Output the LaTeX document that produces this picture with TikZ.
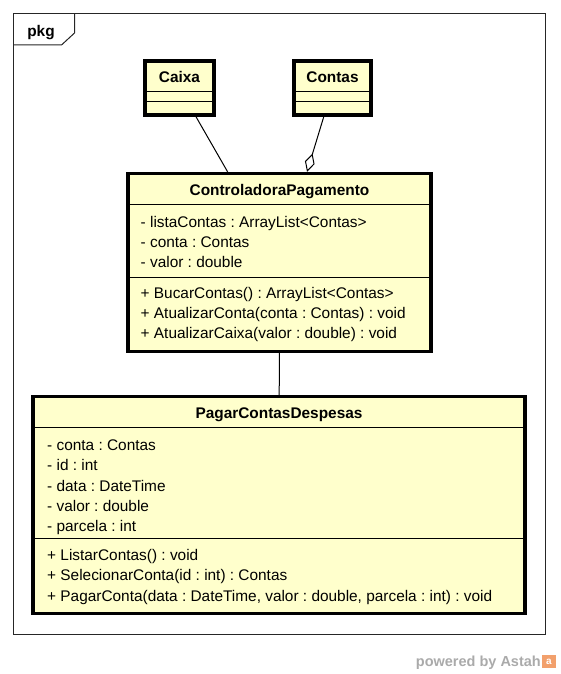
\documentclass[tikz,border=0pt]{standalone}
\usepackage{fontspec}
\setmainfont{Liberation Sans}
\usepackage{tikz}
\usetikzlibrary{arrows.meta, positioning}
\frenchspacing

\definecolor{classfill}{RGB}{255,255,204}
\definecolor{wmgray}{RGB}{170,170,170}
\definecolor{astahorange}{RGB}{242,160,108}

\tikzset{
    classbox/.style={draw=black, line width=3.4pt, fill=classfill, inner sep=0pt},
    clsname/.style={anchor=base, inner sep=0pt, font=\fontsize{15.4}{20}\selectfont\bfseries},
    member/.style={anchor=base west, inner sep=0pt, font=\fontsize{15.4}{20}\selectfont},
    sep/.style={line width=1pt},
    assoc/.style={line width=1pt},
    aggr/.style={line width=1pt, -{Diamond[open, length=19pt, width=10pt]}},
    frame/.style={line width=1pt, draw=black!85}
}

\begin{document}
\begin{tikzpicture}[x=1pt, y=-1pt]
    \useasboundingbox (0,0) rectangle (560,674);
    % Package frame
    \draw[frame] (13.5,13.5) rectangle (545.5,634);
    \draw[frame] (13.5,45) -- (61.5,45) -- (74.5,33) -- (74.5,13.5);
    \node[clsname] (pkg) at (41,36.5) {pkg};

    % Classes
    \node[classbox, minimum width=69pt, minimum height=54pt] (caixa)  at (179.5,88) {};
    \node[classbox, minimum width=77pt, minimum height=54pt] (contas) at (332.5,88) {};
    \node[classbox, minimum width=303pt, minimum height=178pt] (ctrl) at (279.5,262.5) {};
    \node[classbox, minimum width=492pt, minimum height=216.6pt] (pagar) at (279,505) {};

    % Compartments
    \draw[sep] (146.5,91.5) -- (212.5,91.5);
    \draw[sep] (146.5,102) -- (212.5,102);
    \draw[sep] (295.5,91.5) -- (369.5,91.5);
    \draw[sep] (295.5,102) -- (369.5,102);
    \draw[sep] (129.5,204) -- (429.5,204);
    \draw[sep] (129.5,277) -- (429.5,277);
    \draw[sep] (34.5,427) -- (523.5,427);
    \draw[sep] (34.5,538) -- (523.5,538);

    \node[clsname] (caixa-name)  at (179.5,83) {Caixa};
    \node[clsname] (contas-name) at (332.5,83) {Contas};
    \node[clsname] (ctrl-name)   at (279.5,195) {ControladoraPagamento};
    \node[clsname] (pagar-name)  at (279,418) {PagarContasDespesas};

    \node[member] (ctrl-a1) at (140.5,227) {- listaContas : ArrayList<Contas>};
    \node[member] (ctrl-a2) at (140.5,247) {- conta : Contas};
    \node[member] (ctrl-a3) at (140.5,267) {- valor : double};
    \node[member] (ctrl-m1) at (140.5,298) {+ BucarContas() : ArrayList<Contas>};
    \node[member] (ctrl-m2) at (140.5,318) {+ AtualizarConta(conta : Contas) : void};
    \node[member] (ctrl-m3) at (140.5,338) {+ AtualizarCaixa(valor : double) : void};

    \node[member] (pagar-a1) at (47,450.5) {- conta : Contas};
    \node[member] (pagar-a2) at (47,470.8) {- id : int};
    \node[member] (pagar-a3) at (47,491) {- data : DateTime};
    \node[member] (pagar-a4) at (47,511.3) {- valor : double};
    \node[member] (pagar-a5) at (47,531.5) {- parcela : int};
    \node[member] (pagar-m1) at (47,560.5) {+ ListarContas() : void};
    \node[member] (pagar-m2) at (47,580.8) {+ SelecionarConta(id : int) : Contas};
    \node[member] (pagar-m3) at (47,601) {+ PagarConta(data : DateTime, valor : double, parcela : int) : void};

    % Relations
    \path
        (caixa)
            edge [assoc] (ctrl)
        (contas)
            edge [aggr] (ctrl)
        (ctrl)
            edge [assoc] (pagar)
        ;

    % Watermark
    \node[anchor=base east, inner sep=0pt, text=wmgray,
          font=\fontsize{14.5}{16}\selectfont\bfseries] (powered) at (541,666.5) {powered by Astah};
    \node[fill=astahorange, minimum width=14pt, minimum height=13pt, inner sep=0pt,
          text=white, font=\fontsize{10}{10}\selectfont\bfseries] (logo) at (549,661.5) {a};
\end{tikzpicture}
\end{document}
